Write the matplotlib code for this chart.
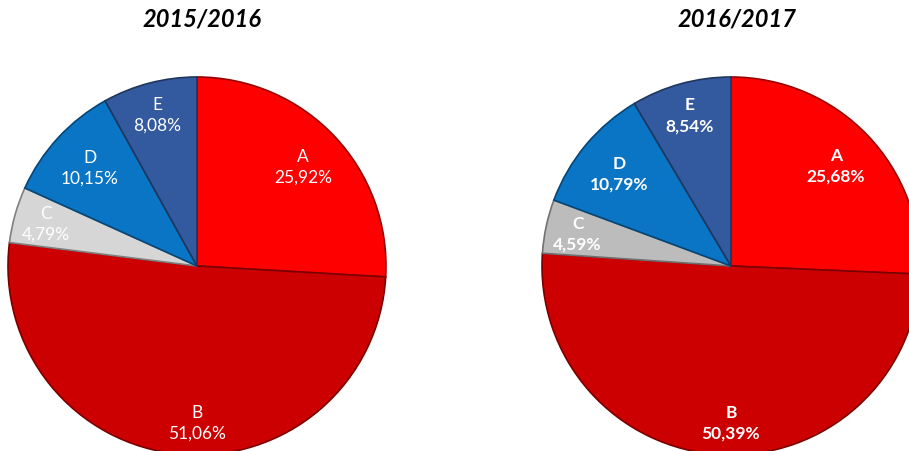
import numpy as np
import matplotlib
matplotlib.use("Agg")
import matplotlib.pyplot as plt
from matplotlib.colors import to_rgb

categories = ["A", "B", "C", "D", "E"]
titles = ["2015/2016", "2016/2017"]
values_1516 = [25.92, 51.06, 4.79, 10.15, 8.08]
values_1617 = [25.68, 50.39, 4.59, 10.79, 8.54]
labels_1516 = ["25,92%", "51,06%", "4,79%", "10,15%", "8,08%"]
labels_1617 = ["25,68%", "50,39%", "4,59%", "10,79%", "8,54%"]

colors_1516 = ["#FF0000", "#CC0000", "#D6D6D6", "#0A75C4", "#335A9E"]
colors_1617 = ["#FF0000", "#CC0000", "#BCBCBC", "#0A75C4", "#335A9E"]

W, H = 909, 452
fig = plt.figure(figsize=(W / 100, H / 100), dpi=100)
fig.patch.set_facecolor("white")

R = 189
centers = [(197, 267), (731, 267)]
title_x = [202, 737]
label_r = [0.77, 0.83, 0.83, 0.77, 0.83]


def darken(c, f=0.6):
    r, g, b = to_rgb(c)
    return (r * f, g * f, b * f)


panels = [
    (values_1516, labels_1516, colors_1516, "normal"),
    (values_1617, labels_1617, colors_1617, "bold"),
]

for i, (vals, labs, cols, weight) in enumerate(panels):
    cx, cy = centers[i]
    ax = fig.add_axes([(cx - R) / W, (H - cy - R) / H, 2 * R / W, 2 * R / H])
    wedges, _ = ax.pie(vals, colors=cols, startangle=90, counterclock=False,
                       radius=1.0,
                       wedgeprops=dict(linewidth=1.2))
    for w, c in zip(wedges, cols):
        w.set_edgecolor(darken(c, 0.6))
    ax.set_xlim(-1, 1)
    ax.set_ylim(-1, 1)
    ax.set_aspect("equal")
    ax.axis("off")
    total = sum(vals)
    ang = 90.0
    for k, (cat, v, lab) in enumerate(zip(categories, vals, labs)):
        span = 360.0 * v / total
        mid = np.deg2rad(ang - span / 2)
        ang -= span
        x = label_r[k] * np.cos(mid)
        y = label_r[k] * np.sin(mid)
        if k == 1:
            x = 0.0
        ax.text(x, y, f"{cat}\n{lab}", ha="center", va="center",
                color="white", fontsize=12.5, fontweight=weight,
                family=["Lato", "DejaVu Sans"], linespacing=1.35,
                clip_on=False)
    fig.text(title_x[i] / W, 1 - 19 / H, titles[i], ha="center", va="center",
             fontsize=17, fontweight="bold", fontstyle="italic",
             family=["Lato", "DejaVu Sans"], color="black")

fig.savefig("out.png", dpi=100)
